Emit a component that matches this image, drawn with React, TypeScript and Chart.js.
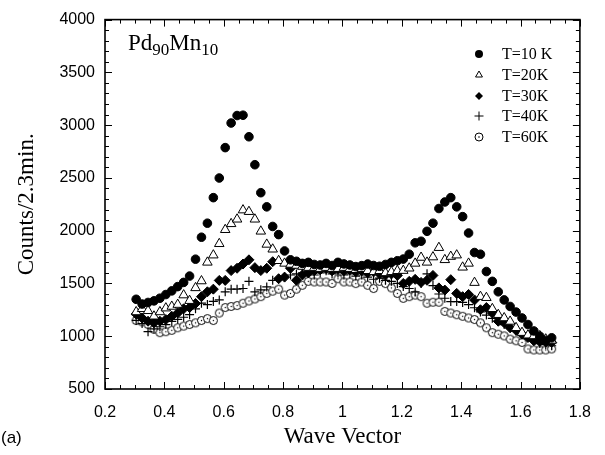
import React, { useEffect, useRef } from "react";
import { Chart, registerables } from "chart.js";

Chart.register(...registerables);

// ---- data ----
const waveVector = [
  0.305, 0.325, 0.345, 0.365, 0.385, 0.405, 0.425, 0.445, 0.465, 0.485,
  0.505, 0.525, 0.545, 0.565, 0.585, 0.605, 0.625, 0.645, 0.665, 0.685,
  0.705, 0.725, 0.745, 0.765, 0.785, 0.805, 0.825, 0.845, 0.865, 0.885,
  0.905, 0.925, 0.945, 0.965, 0.985, 1.005, 1.025, 1.045, 1.065, 1.085,
  1.105, 1.125, 1.145, 1.165, 1.185, 1.205, 1.225, 1.245, 1.265, 1.285,
  1.305, 1.325, 1.345, 1.365, 1.385, 1.405, 1.425, 1.445, 1.465, 1.485,
  1.505, 1.525, 1.545, 1.565, 1.585, 1.605, 1.625, 1.645, 1.665, 1.685,
  1.705,
];

const countsT10 = [
  1350, 1305, 1320, 1335, 1360, 1395, 1430, 1470, 1510, 1570,
  1730, 1938, 2071, 2313, 2499, 2787, 3020, 3091, 3094, 2890,
  2625, 2360, 2226, 2040, 1963, 1808, 1724, 1710, 1690, 1700,
  1680, 1675, 1690, 1670, 1700, 1685, 1675, 1660, 1669, 1684,
  1670, 1663, 1680, 1700, 1715, 1731, 1777, 1885, 1900, 1994,
  2071, 2210, 2272, 2313, 2226, 2133, 1978, 1793, 1777, 1613,
  1520, 1421, 1344, 1282, 1229, 1173, 1111, 1050, 1000, 960,
  985,
];

const countsT20 = [
  1230, 1260, 1241, 1189, 1230, 1266, 1282, 1300, 1390, 1337,
  1458, 1523, 1700, 1768, 1876, 2009, 2065, 2108, 2195, 2180,
  2108, 1994, 1870, 1824, 1715, 1690, 1680, 1670, 1660, 1650,
  1650, 1640, 1650, 1640, 1640, 1650, 1640, 1630, 1640, 1620,
  1610, 1620, 1600, 1610, 1620, 1622, 1644, 1690, 1746, 1700,
  1750, 1839, 1724, 1755, 1768, 1653, 1690, 1508, 1375, 1365,
  1260, 1204, 1173, 1140, 1080, 1034, 1010, 1003, 1003, 972,
  960,
];

const countsT30 = [
  1210, 1173, 1142, 1127, 1142, 1158, 1189, 1220, 1260, 1272,
  1310, 1375, 1421, 1446, 1529, 1529, 1622, 1644, 1684, 1724,
  1650, 1622, 1644, 1706, 1545, 1560, 1644, 1530, 1580, 1600,
  1620, 1630, 1640, 1620, 1640, 1620, 1630, 1610, 1620, 1600,
  1610, 1590, 1580, 1590, 1576, 1500, 1520, 1539, 1510, 1530,
  1576, 1458, 1437, 1536, 1406, 1375, 1396, 1344, 1251, 1272,
  1220, 1142, 1127, 1080, 1056, 1019, 988, 957, 950, 945,
  941,
];

const countsT40 = [
  1150, 1120, 1043, 1070, 1090, 1110, 1140, 1160, 1180, 1204,
  1260, 1313, 1300, 1330, 1344, 1421, 1446, 1446, 1452, 1520,
  1421, 1440, 1467, 1530, 1545, 1560, 1580, 1590, 1600, 1610,
  1580, 1600, 1620, 1590, 1600, 1580, 1590, 1570, 1580, 1560,
  1540, 1550, 1530, 1520, 1500, 1470, 1452, 1420, 1500, 1591,
  1480, 1400, 1360, 1328, 1328, 1320, 1300, 1270, 1230, 1200,
  1170, 1140, 1110, 1080, 1050, 1020, 990, 960, 930, 920,
  910,
];

const countsT60 = [
  1149, 1136, 1111, 1065, 1034, 1043, 1056, 1080, 1096, 1111,
  1127, 1149, 1167, 1149, 1220, 1272, 1282, 1291, 1313, 1334,
  1353, 1375, 1406, 1427, 1446, 1390, 1406, 1446, 1483, 1520,
  1514, 1514, 1514, 1500, 1545, 1514, 1514, 1499, 1514, 1483,
  1452, 1520, 1499, 1458, 1406, 1359, 1375, 1390, 1375, 1313,
  1322, 1322, 1235, 1220, 1204, 1189, 1173, 1158, 1127, 1080,
  1034, 1019, 1003, 972, 957, 941, 879, 870, 870, 870,
  879,
];

const seriesLabels = ["T=10 K", "T=20K", "T=30K", "T=40K", "T=60K"];
const xTickValues = [0.2, 0.4, 0.6, 0.8, 1.0, 1.2, 1.4, 1.6, 1.8];
const xTickLabels = ["0.2", "0.4", "0.6", "0.8", "1", "1.2", "1.4", "1.6", "1.8"];
const yTickValues = [500, 1000, 1500, 2000, 2500, 3000, 3500, 4000];
const yTickLabels = ["500", "1000", "1500", "2000", "2500", "3000", "3500", "4000"];

const SANS = '"Liberation Sans", Arial, sans-serif';
const SERIF = '"Liberation Serif", "Times New Roman", serif';

function makeDotCircle(r: number): HTMLCanvasElement {
  const size = Math.ceil(r * 2 + 3);
  const c = document.createElement("canvas");
  c.width = size;
  c.height = size;
  const g = c.getContext("2d")!;
  const m = size / 2;
  g.beginPath();
  g.arc(m, m, r, 0, Math.PI * 2);
  g.fillStyle = "#fff";
  g.fill();
  g.lineWidth = 1;
  g.strokeStyle = "#000";
  g.stroke();
  g.beginPath();
  g.arc(m, m, 0.7, 0, Math.PI * 2);
  g.fillStyle = "#000";
  g.fill();
  return c;
}

function drawMarker(ctx: CanvasRenderingContext2D, kind: string, x: number, y: number, r: number) {
  ctx.save();
  ctx.lineWidth = 1;
  ctx.strokeStyle = "#000";
  ctx.fillStyle = "#000";
  ctx.beginPath();
  if (kind === "circle") {
    ctx.arc(x, y, r, 0, Math.PI * 2);
    ctx.fill();
  } else if (kind === "triangle") {
    for (let i = 0; i < 3; i++) {
      const a = (i * 2 * Math.PI) / 3;
      const px = x + Math.sin(a) * r;
      const py = y - Math.cos(a) * r;
      if (i === 0) ctx.moveTo(px, py);
      else ctx.lineTo(px, py);
    }
    ctx.closePath();
    ctx.fillStyle = "#fff";
    ctx.fill();
    ctx.stroke();
  } else if (kind === "diamond") {
    ctx.moveTo(x, y - r);
    ctx.lineTo(x + r, y);
    ctx.lineTo(x, y + r);
    ctx.lineTo(x - r, y);
    ctx.closePath();
    ctx.fill();
  } else if (kind === "plus") {
    ctx.moveTo(x - r, y);
    ctx.lineTo(x + r, y);
    ctx.moveTo(x, y - r);
    ctx.lineTo(x, y + r);
    ctx.stroke();
  } else if (kind === "dotcircle") {
    ctx.arc(x, y, r, 0, Math.PI * 2);
    ctx.fillStyle = "#fff";
    ctx.fill();
    ctx.stroke();
    ctx.beginPath();
    ctx.arc(x, y, 0.8, 0, Math.PI * 2);
    ctx.fillStyle = "#000";
    ctx.fill();
  }
  ctx.restore();
}

const legendKinds = ["circle", "triangle", "diamond", "plus", "dotcircle"];

const decorPlugin = {
  id: "decor",
  afterDraw(chart: any) {
    const { ctx, chartArea: a, scales } = chart;
    const xs = scales.x;
    const ys = scales.y;
    ctx.save();
    // ticks
    ctx.strokeStyle = "#000";
    ctx.lineWidth = 1;
    ctx.beginPath();
    for (let i = 0; i <= 32; i++) {
      const v = 0.2 + i * 0.05;
      const px = Math.round(xs.getPixelForValue(v)) + 0.5;
      const len = i % 4 === 0 ? 7 : 4;
      ctx.moveTo(px, a.bottom);
      ctx.lineTo(px, a.bottom - len);
      ctx.moveTo(px, a.top);
      ctx.lineTo(px, a.top + len);
    }
    for (let i = 0; i <= 35; i++) {
      const v = 500 + i * 100;
      const py = Math.round(ys.getPixelForValue(v)) + 0.5;
      const len = i % 5 === 0 ? 7 : 4;
      ctx.moveTo(a.left, py);
      ctx.lineTo(a.left + len, py);
      ctx.moveTo(a.right, py);
      ctx.lineTo(a.right - len, py);
    }
    ctx.stroke();
    // frame
    ctx.lineWidth = 1.6;
    ctx.strokeRect(a.left, a.top, a.right - a.left, a.bottom - a.top);

    // compound label
    ctx.fillStyle = "#000";
    ctx.textAlign = "left";
    ctx.textBaseline = "alphabetic";
    let tx = 128;
    const ty = 50;
    const big = `23px ${SERIF}`;
    const small = `17px ${SERIF}`;
    const parts: [string, boolean][] = [["Pd", false], ["90", true], ["Mn", false], ["10", true]];
    for (const [t, sub] of parts) {
      ctx.font = sub ? small : big;
      ctx.fillText(t, tx, sub ? ty + 5 : ty);
      tx += ctx.measureText(t).width;
    }

    // legend
    ctx.font = `16px ${SERIF}`;
    ctx.textBaseline = "middle";
    const rowsY = [54, 75, 96, 116, 137];
    seriesLabels.forEach((lab, i) => {
      drawMarker(ctx, legendKinds[i], 479, rowsY[i], i === 3 ? 4.5 : 4);
      ctx.fillStyle = "#000";
      ctx.fillText(lab, 502, rowsY[i] + 1);
    });

    // axis titles
    ctx.textAlign = "center";
    ctx.textBaseline = "middle";
    ctx.font = `23px ${SERIF}`;
    ctx.fillText("Wave Vector", (a.left + a.right) / 2, 437);
    ctx.save();
    ctx.translate(27, (a.top + a.bottom) / 2);
    ctx.rotate(-Math.PI / 2);
    ctx.fillText("Counts/2.3min.", 0, 0);
    ctx.restore();

    ctx.textAlign = "left";
    ctx.font = `17px ${SANS}`;
    ctx.fillText("(a)", 1, 438);
    ctx.restore();
  },
};

export default function App() {
  const ref = useRef<HTMLCanvasElement | null>(null);

  useEffect(() => {
    document.body.style.margin = "0";
    const canvas = ref.current;
    if (!canvas) return;
    const toPts = (ys: number[]) => waveVector.map((x, i) => ({ x, y: ys[i] }));
    const common = { showLine: false, borderColor: "#000" };
    const chart = new Chart(canvas, {
      type: "scatter",
      data: {
        datasets: [
          { ...common, label: seriesLabels[0], data: toPts(countsT10), pointStyle: "circle", pointRadius: 4.3, borderWidth: 1, backgroundColor: "#000" },
          { ...common, label: seriesLabels[1], data: toPts(countsT20), pointStyle: "triangle", pointRadius: 5.5, borderWidth: 1, backgroundColor: "#fff" },
          { ...common, label: seriesLabels[2], data: toPts(countsT30), pointStyle: "rectRot", pointRadius: 5, borderWidth: 1, backgroundColor: "#000" },
          { ...common, label: seriesLabels[3], data: toPts(countsT40), pointStyle: "cross", pointRadius: 4.5, borderWidth: 1.2, backgroundColor: "#000" },
          { ...common, label: seriesLabels[4], data: toPts(countsT60), pointStyle: makeDotCircle(4) as any, pointRadius: 4, borderWidth: 1, backgroundColor: "#fff" },
        ],
      },
      options: {
        responsive: false,
        animation: false,
        devicePixelRatio: 1,
        layout: { padding: { top: 13, right: 23, left: 0, bottom: 0 } },
        plugins: { legend: { display: false }, tooltip: { enabled: false } },
        scales: {
          x: {
            type: "linear",
            min: 0.2,
            max: 1.8,
            afterBuildTicks: (s: any) => {
              s.ticks = xTickValues.map((v) => ({ value: v }));
            },
            afterFit: (s: any) => {
              s.height = 66;
            },
            ticks: {
              color: "#000",
              font: { family: SANS, size: 16 },
              padding: 14,
              maxRotation: 0,
              autoSkip: false,
              callback: (_v: any, i: number) => xTickLabels[i],
            },
            grid: { display: false, drawTicks: false },
            border: { display: false },
          },
          y: {
            type: "linear",
            min: 500,
            max: 4000,
            afterBuildTicks: (s: any) => {
              s.ticks = yTickValues.map((v) => ({ value: v }));
            },
            afterFit: (s: any) => {
              s.width = 105;
            },
            ticks: {
              color: "#000",
              font: { family: SANS, size: 16 },
              padding: 10,
              autoSkip: false,
              callback: (_v: any, i: number) => yTickLabels[i],
            },
            grid: { display: false, drawTicks: false },
            border: { display: false },
          },
        },
      },
      plugins: [decorPlugin],
    });
    return () => chart.destroy();
  }, []);

  return <canvas ref={ref} width={605} height={455} style={{ display: "block" }} />;
}
